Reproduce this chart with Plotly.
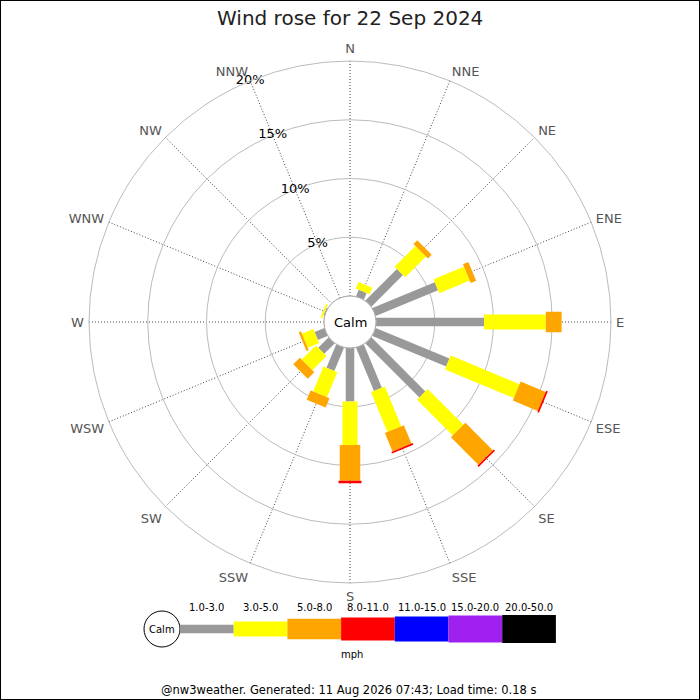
import plotly.graph_objects as go

title = 'Wind rose for 22 Sep 2024'
footer = '@nw3weather. Generated: 11 Aug 2026 07:43; Load time: 0.18 s'

directions = ['N', 'NNE', 'NE', 'ENE', 'E', 'ESE', 'SE', 'SSE',
              'S', 'SSW', 'SW', 'WSW', 'W', 'WNW', 'NW', 'NNW']

speed_bins = ['1.0-3.0', '3.0-5.0', '5.0-8.0', '8.0-11.0',
              '11.0-15.0', '15.0-20.0', '20.0-50.0']

# frequency (%) per direction, one list per speed class
freq_1_3 = [0, 0.6, 3.8, 5.75, 9.2, 6.8, 6.5, 4.0, 4.55, 2.15, 1.25, 0.9, 0, 0.1, 0, 0]
freq_3_5 = [0, 0.6, 2.5, 2.8, 5.25, 6.35, 4.3, 3.65, 3.7, 2.3, 1.7, 1.05, 0, 0.15, 0, 0]
freq_5_8 = [0, 0, 0.45, 0.5, 1.35, 2.3, 3.3, 1.7, 3.05, 0.85, 0.8, 0.2, 0, 0, 0, 0]
freq_8_11 = [0, 0, 0, 0, 0, 0.15, 0.15, 0.15, 0.2, 0, 0, 0, 0, 0, 0, 0]
freq_11_15 = [0] * 16
freq_15_20 = [0] * 16
freq_20_50 = [0] * 16

freqs = [freq_1_3, freq_3_5, freq_5_8, freq_8_11, freq_11_15, freq_15_20, freq_20_50]

radial_ticks = [5, 10, 15, 20]

colors = ['#999999', '#ffff00', '#ffa500', '#ff0000', '#0000ff', '#a020f0', '#000000']
widths = [8.5, 15, 20.5, 23, 25, 27, 28]

W = H = 700
CX, CY, R = 350, 322, 261
CALM_R = 26


def px(x):
    return x / W


def py(y):
    return 1 - y / H


def label(x, y, text, size, color='black'):
    return dict(x=px(x), y=py(y), xref='paper', yref='paper', text=text,
                showarrow=False, xanchor='center', yanchor='middle',
                font=dict(size=size, color=color))


fig = go.Figure()

# stacked segments, each speed class drawn as a thick straight line
base = [0] * len(directions)
for k, f in enumerate(freqs):
    rr, tt = [], []
    for i, d in enumerate(directions):
        if f[i] > 0:
            rr += [base[i], base[i] + f[i], None]
            tt += [d, d, None]
            base[i] += f[i]
    if rr:
        fig.add_trace(go.Scatterpolar(
            r=rr, theta=tt, mode='lines',
            line=dict(color=colors[k], width=widths[k]),
            hoverinfo='skip', showlegend=False))

fig.add_trace(go.Scatterpolar(
    r=radial_ticks, theta=['NNW'] * len(radial_ticks), mode='text',
    text=[f'{v}%' for v in radial_ticks],
    textfont=dict(size=13, color='black', family='DejaVu Sans'),
    hoverinfo='skip', showlegend=False))

shapes = []
annotations = []

# calm circle in centre
shapes.append(dict(type='circle', xref='paper', yref='paper',
                   x0=px(CX - CALM_R), x1=px(CX + CALM_R),
                   y0=py(CY + CALM_R), y1=py(CY - CALM_R),
                   line=dict(color='#aaaaaa', width=1), fillcolor='white', layer='above'))
annotations.append(label(CX, CY, 'Calm', 13))

# speed legend
lx0, seg, ly = 180, 53.7, 629
shapes.append(dict(type='circle', xref='paper', yref='paper',
                   x0=px(144), x1=px(180), y0=py(ly + 18), y1=py(ly - 18),
                   line=dict(color='black', width=1), fillcolor='white'))
annotations.append(label(162, ly, 'Calm', 10))
for k, lab in enumerate(speed_bins):
    x0 = lx0 + k * seg
    shapes.append(dict(type='rect', xref='paper', yref='paper',
                       x0=px(x0), x1=px(x0 + seg),
                       y0=py(ly + widths[k] / 2), y1=py(ly - widths[k] / 2),
                       line=dict(width=0), fillcolor=colors[k]))
    annotations.append(label(x0 + seg / 2, 607, lab, 10))
annotations.append(label(352, 654, 'mph', 10))
annotations.append(label(348, 690, footer, 11.5))
annotations.append(label(350, 18, title, 20, '#222222'))

# border
shapes.append(dict(type='rect', xref='paper', yref='paper', x0=0, x1=1, y0=0, y1=1,
                   line=dict(color='black', width=2)))

fig.update_layout(
    width=W, height=H,
    margin=dict(l=0, r=0, t=0, b=0),
    paper_bgcolor='white',
    font=dict(family='DejaVu Sans'),
    polar=dict(
        domain=dict(x=[px(CX - R), px(CX + R)], y=[py(CY + R), py(CY - R)]),
        bgcolor='white',
        hole=CALM_R / R,
        radialaxis=dict(range=[0, 20], tickvals=radial_ticks, showticklabels=False,
                        ticks='', showline=False, gridcolor='#bbbbbb', gridwidth=1),
        angularaxis=dict(type='category', categoryarray=directions,
                         rotation=90, direction='clockwise',
                         ticks='outside', ticklen=2, tickcolor='rgba(0,0,0,0)',
                         showline=True, linecolor='#bbbbbb', linewidth=1,
                         gridcolor='#444444', griddash='1px,2px', gridwidth=1,
                         tickfont=dict(size=13, color='#555555')),
    ),
    shapes=shapes,
    annotations=annotations,
)

fig.write_html('out.html', config={'displayModeBar': False},
               post_script="document.body.style.margin='0';")
